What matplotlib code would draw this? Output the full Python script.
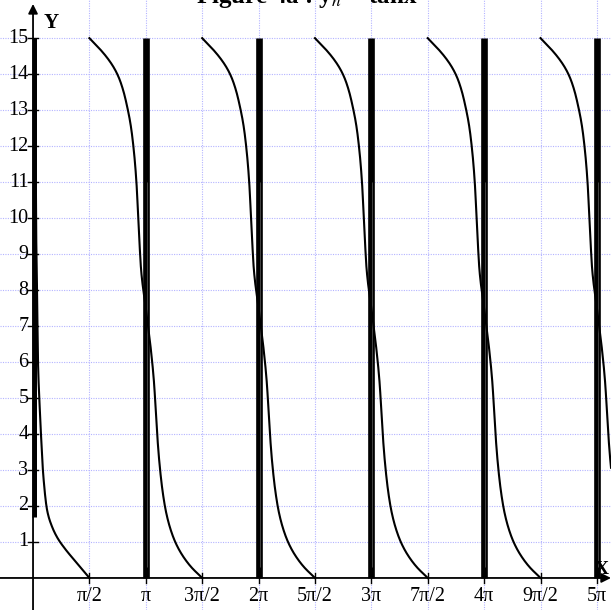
import numpy as np
import matplotlib
matplotlib.use("Agg")
import matplotlib.pyplot as plt

plt.rcParams['font.family'] = ['Liberation Serif', 'DejaVu Serif']
plt.rcParams['mathtext.fontset'] = 'stix'

PI = np.pi

# ---- data ----
# typical branch around each centre k*pi (offset u, value y)
branch_u = [-1.571, -1.30, -1.05, -0.878, -0.75, -0.63, -0.52, -0.416, -0.323, -0.259, -0.203, -0.13,
            0.0, 0.13, 0.231, 0.296, 0.370, 0.462, 0.56, 0.68, 0.82, 1.0, 1.25, 1.571]
branch_y = [15.0, 14.72, 14.42, 14.16, 13.9, 13.55, 13.1, 12.55, 11.77, 10.96, 9.85, 8.55,
            7.5, 6.45, 5.40, 4.3, 3.3, 2.45, 1.85, 1.38, 1.0, 0.66, 0.32, 0.0]
branch_centres = [1, 2, 3, 4, 5]          # multiples of pi

# first branch starting near x = 0
first_u = [0.066, 0.085, 0.113, 0.141, 0.179, 0.226, 0.282, 0.395, 0.52, 0.677, 0.9, 1.148, 1.571]
first_y = [12.9, 9.85, 7.9, 5.9, 4.9, 3.9, 2.9, 1.87, 1.45, 1.12, 0.8, 0.5, 0.0]

# dense vertical bars
bar_centres = [1, 2, 3, 4, 5]             # multiples of pi
bar_low, bar_high = 0.0, 15.0
bar0_low, bar0_high = 1.7, 15.0

y_ticks = list(range(1, 16))
x_tick_labels = ['π/2', 'π', '3π/2', '2π', '5π/2', '3π', '7π/2', '4π', '9π/2', '5π']
x_tick_mult = [1, 2, 3, 4, 5, 6, 7, 8, 9, 10]   # multiples of pi/2

title = 'Figure 4a : y$_n$ = tanx'


def pchip(x, y, xn):
    """Monotone cubic (Fritsch-Carlson) through the read points, for drawing only."""
    x = np.asarray(x, float); y = np.asarray(y, float)
    h = np.diff(x); d = np.diff(y) / h
    m = np.zeros_like(y)
    for i in range(1, len(x) - 1):
        if d[i - 1] * d[i] > 0:
            w1 = 2 * h[i] + h[i - 1]; w2 = h[i] + 2 * h[i - 1]
            m[i] = (w1 + w2) / (w1 / d[i - 1] + w2 / d[i])
    m[0] = d[0]; m[-1] = d[-1]
    idx = np.clip(np.searchsorted(x, xn) - 1, 0, len(x) - 2)
    t = (xn - x[idx]) / h[idx]
    h00 = 2 * t ** 3 - 3 * t ** 2 + 1; h10 = t ** 3 - 2 * t ** 2 + t
    h01 = -2 * t ** 3 + 3 * t ** 2; h11 = t ** 3 - t ** 2
    return h00 * y[idx] + h10 * h[idx] * m[idx] + h01 * y[idx + 1] + h11 * h[idx] * m[idx + 1]


fig = plt.figure(figsize=(6.11, 6.10), dpi=100)
ax = fig.add_axes([0, 0, 1, 1])
ax.axis('off')
ax.set_xlim(-0.92, 16.1)
ax.set_ylim(-0.89, 16.06)

grid_kw = dict(color='#b4b4ff', lw=0.8, ls=(0, (1, 1.2)), zorder=0)
for m in x_tick_mult:
    ax.axvline(m * PI / 2, **grid_kw)
for j in y_ticks:
    ax.axhline(j, **grid_kw)

# axes with arrows
ax.annotate('', xy=(16.1, 0), xytext=(-0.92, 0),
            arrowprops=dict(arrowstyle='-|>', lw=1.3, color='k', mutation_scale=14, shrinkA=0, shrinkB=0), zorder=5)
ax.annotate('', xy=(0, 15.95), xytext=(0, -0.89),
            arrowprops=dict(arrowstyle='-|>', lw=1.3, color='k', mutation_scale=14, shrinkA=0, shrinkB=0), zorder=5)

# ticks and labels
for j in y_ticks:
    ax.plot([-0.14, 0.14], [j, j], color='k', lw=1.0, zorder=5)
    ax.text(-0.13, j, str(j), ha='right', va='center', fontsize=14.5)
for m, lab in zip(x_tick_mult, x_tick_labels):
    ax.plot([m * PI / 2] * 2, [-0.14, 0.14], color='k', lw=1.0, zorder=5)
    ax.text(m * PI / 2, -0.24, lab, ha='center', va='top', fontsize=14.5)

# bars
ax.vlines([c * PI for c in bar_centres], bar_low, bar_high, colors='k', lw=4.8, zorder=3, capstyle='butt')
ax.vlines([c * PI + 0.03 for c in bar_centres], 0.3, 11.0, colors='#777777', lw=0.4, zorder=3.5)
ax.vlines([0.02], bar0_low, bar0_high, colors='k', lw=3.6, zorder=3, capstyle='butt')
ax.vlines([-0.02], bar0_low, bar0_high, colors='#999999', lw=0.5, zorder=3.5)

# curves
for c in branch_centres:
    uu = np.linspace(branch_u[0], branch_u[-1], 3000)
    ax.plot(uu + c * PI, pchip(branch_u, branch_y, uu), color='k', lw=1.5, zorder=4)
uu = np.linspace(first_u[0], first_u[-1], 2000)
ax.plot(uu, pchip(first_u, first_y, uu), color='k', lw=1.5, zorder=4)

ax.text(0.28, 15.28, 'Y', fontsize=15, fontweight='bold', va='baseline', ha='left')
ax.text(15.85, 0.12, 'X', fontsize=14, fontweight='bold', va='baseline', ha='center', zorder=6)
ax.text(7.63, 15.97, title, fontsize=18, fontweight='bold', ha='center', va='baseline', clip_on=False)

fig.savefig('out.png', dpi=100)
